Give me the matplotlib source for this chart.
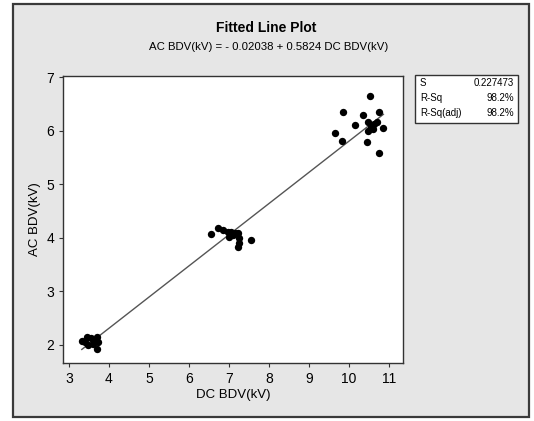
import numpy as np
import matplotlib.pyplot as plt
from matplotlib.patches import Rectangle

plt.rcParams["font.family"] = ["Liberation Sans Narrow", "Liberation Sans", "DejaVu Sans"]

# DC vs AC breakdown voltage measurements (kV)
dc_bdv = [
    3.32, 3.44, 3.56, 3.69, 3.73, 3.61, 3.48, 3.69, 3.40, 3.65,
    6.56, 6.72, 6.85, 6.97, 7.06, 7.10, 7.01, 7.22, 7.26, 7.25, 7.22, 7.54, 7.15,
    10.53, 9.86, 10.34, 10.74, 10.16, 10.47, 9.66, 9.82, 10.46, 10.74, 10.86,
    10.55, 10.63, 10.71, 10.47, 10.59,
]
ac_bdv = [
    2.08, 2.15, 2.12, 2.15, 2.05, 2.02, 1.99, 1.93, 2.05, 2.08,
    4.07, 4.19, 4.14, 4.11, 4.11, 4.05, 4.02, 4.08, 3.99, 3.91, 3.82, 3.95, 4.09,
    6.64, 6.35, 6.29, 6.34, 6.10, 6.16, 5.95, 5.80, 5.79, 5.59, 6.05,
    6.07, 6.13, 6.16, 6.00, 6.03,
]

intercept = -0.02038
slope = 0.5824
stat_names = ["S", "R-Sq", "R-Sq(adj)"]
stat_values = ["0.227473", "98.2%", "98.2%"]

x_ticks = [3, 4, 5, 6, 7, 8, 9, 10, 11]
y_ticks = [2, 3, 4, 5, 6, 7]

W, H = 534, 421
fig = plt.figure(figsize=(W / 100, H / 100), dpi=100, facecolor="white")

# background layer: grey panel with dark frame and the stats box
bg = fig.add_axes([0, 0, 1, 1], zorder=-1)
bg.set_xlim(0, W)
bg.set_ylim(H, 0)
bg.axis("off")
bg.add_patch(Rectangle((13, 4), 516, 413, facecolor="#e6e6e6",
                       edgecolor="#3a3a3a", linewidth=1.6))
bg.add_patch(Rectangle((415, 75), 103, 48, facecolor="white",
                       edgecolor="#333333", linewidth=1.0))
for i, (name, val) in enumerate(zip(stat_names, stat_values)):
    yy = 83 + i * 15
    bg.text(420, yy, name, ha="left", va="center", fontsize=7)
    bg.text(514, yy, val, ha="right", va="center", fontsize=7)

bg.text(266, 28, "Fitted Line Plot", ha="center", va="center",
        fontsize=10, fontweight="bold")
bg.text(269, 47,
        f"AC BDV(kV) = - {abs(intercept):.5f} + {slope:.4f} DC BDV(kV)",
        ha="center", va="center", fontsize=8.2)

ax = fig.add_axes([63 / W, 1 - 363 / H, 340 / W, 287 / H])
ax.set_facecolor("white")

xs = np.array([min(dc_bdv), max(dc_bdv)])
ax.plot(xs, intercept + slope * xs, color="#555555", linewidth=1.0, zorder=2)
ax.scatter(dc_bdv, ac_bdv, s=28, color="black", zorder=3, linewidths=0)

ax.set_xlim(2.85, 11.35)
ax.set_ylim(1.66, 7.02)
ax.set_xticks(x_ticks)
ax.set_yticks(y_ticks)
ax.tick_params(labelsize=10, length=3, width=0.8, color="#333333", direction="out")
for s in ax.spines.values():
    s.set_color("#333333")
    s.set_linewidth(1.0)

ax.set_xlabel("DC BDV(kV)", fontsize=9.5, labelpad=2)
ax.set_ylabel("AC BDV(kV)", fontsize=9.5, labelpad=4)

fig.savefig("out.png", dpi=100)
